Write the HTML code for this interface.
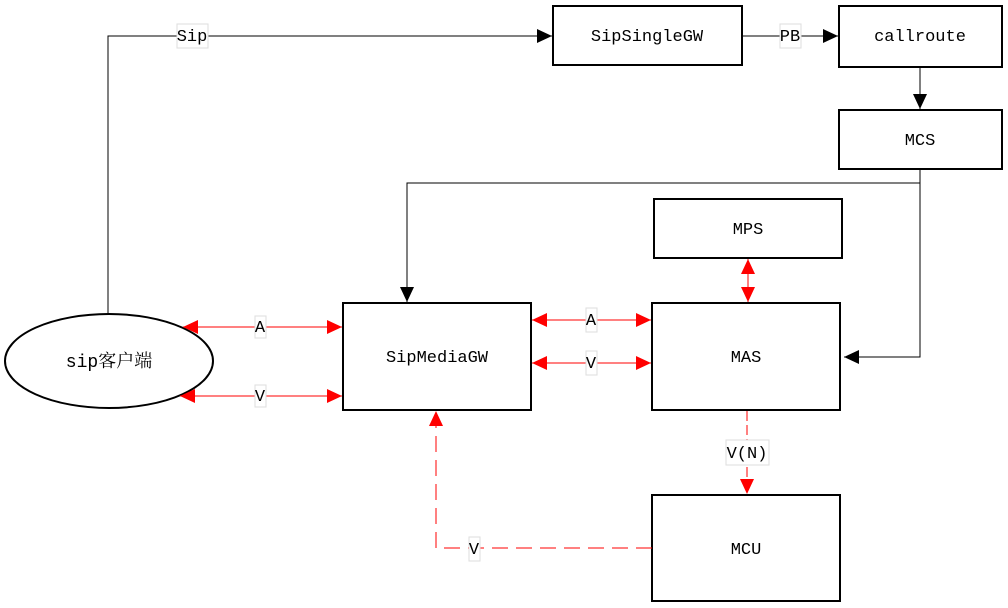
<!DOCTYPE html>
<html><head><meta charset="utf-8"><style>
html,body{margin:0;padding:0;background:#fff;width:1008px;height:608px;overflow:hidden}
text{font-family:"Liberation Mono","Noto Serif CJK SC",monospace;font-size:17px;fill:#000}
</style></head><body>
<svg width="1008" height="608" viewBox="0 0 1008 608" xmlns="http://www.w3.org/2000/svg">
<defs>
<marker id="ab" markerWidth="16" markerHeight="14" refX="15" refY="7" orient="auto" markerUnits="userSpaceOnUse"><path d="M0,0 L15,7 L0,14 Z" fill="#000"/></marker>
<marker id="ar" markerWidth="16" markerHeight="14" refX="15" refY="7" orient="auto" markerUnits="userSpaceOnUse"><path d="M0,0 L15,7 L0,14 Z" fill="#f00"/></marker>
<marker id="arS" markerWidth="16" markerHeight="14" refX="0" refY="7" orient="auto" markerUnits="userSpaceOnUse"><path d="M15,0 L0,7 L15,14 Z" fill="#f00"/></marker>
</defs>
<g fill="#fff" stroke="#000" stroke-width="2">
<rect x="553" y="6" width="189" height="59"/>
<rect x="839" y="6" width="163" height="61"/>
<rect x="839" y="110" width="163" height="59"/>
<rect x="654" y="199" width="188" height="59"/>
<rect x="343" y="303" width="188" height="107"/>
<rect x="652" y="303" width="188" height="107"/>
<rect x="652" y="495" width="188" height="106"/>
<ellipse cx="109" cy="361" rx="104" ry="47"/>
</g>
<g fill="none" stroke="#000" stroke-width="1">
<path d="M108,313 V36 H552" marker-end="url(#ab)"/>
<path d="M742,36 H838" marker-end="url(#ab)"/>
<path d="M920,67 V109" marker-end="url(#ab)"/>
<path d="M920,169 V357 H844" marker-end="url(#ab)"/>
<path d="M920,183 H407 V302" marker-end="url(#ab)"/>
</g>
<g fill="none" stroke="#f00" stroke-width="1">
<path d="M183,327 H342" marker-start="url(#arS)" marker-end="url(#ar)"/>
<path d="M180,396 H342" marker-start="url(#arS)" marker-end="url(#ar)"/>
<path d="M532,320 H651" marker-start="url(#arS)" marker-end="url(#ar)"/>
<path d="M532,363 H651" marker-start="url(#arS)" marker-end="url(#ar)"/>
<path d="M748,259 V302" marker-start="url(#arS)" marker-end="url(#ar)"/>
<path d="M747,411 V494" stroke-dasharray="10,4" marker-end="url(#ar)"/>
<path d="M652,548 H436 V411" stroke-dasharray="16,8" marker-end="url(#ar)"/>
</g>
<g fill="#fff" stroke="#ddd" stroke-width="1">
<rect x="177" y="24" width="31" height="24"/>
<rect x="780" y="24" width="21" height="24"/>
<rect x="255" y="316" width="11" height="22"/>
<rect x="255" y="385" width="11" height="22"/>
<rect x="586" y="308" width="11" height="24"/>
<rect x="586" y="351" width="11" height="24"/>
<rect x="726" y="440" width="43" height="25"/>
<rect x="469" y="537" width="11" height="24"/>
</g>
<g text-anchor="middle">
<text x="192" y="41">Sip</text>
<text x="790" y="41">PB</text>
<text x="647" y="41">SipSingleGW</text>
<text x="920" y="41">callroute</text>
<text x="920" y="145">MCS</text>
<text x="748" y="234">MPS</text>
<text x="437" y="362">SipMediaGW</text>
<text x="746" y="362">MAS</text>
<text x="746" y="554">MCU</text>
<text x="109" y="367" style="font-size:18px">sip客户端</text>
<text x="260" y="332">A</text>
<text x="260" y="401">V</text>
<text x="591" y="325">A</text>
<text x="591" y="368">V</text>
<text x="747" y="458">V(N)</text>
<text x="474" y="554">V</text>
</g>
</svg>
</body></html>
